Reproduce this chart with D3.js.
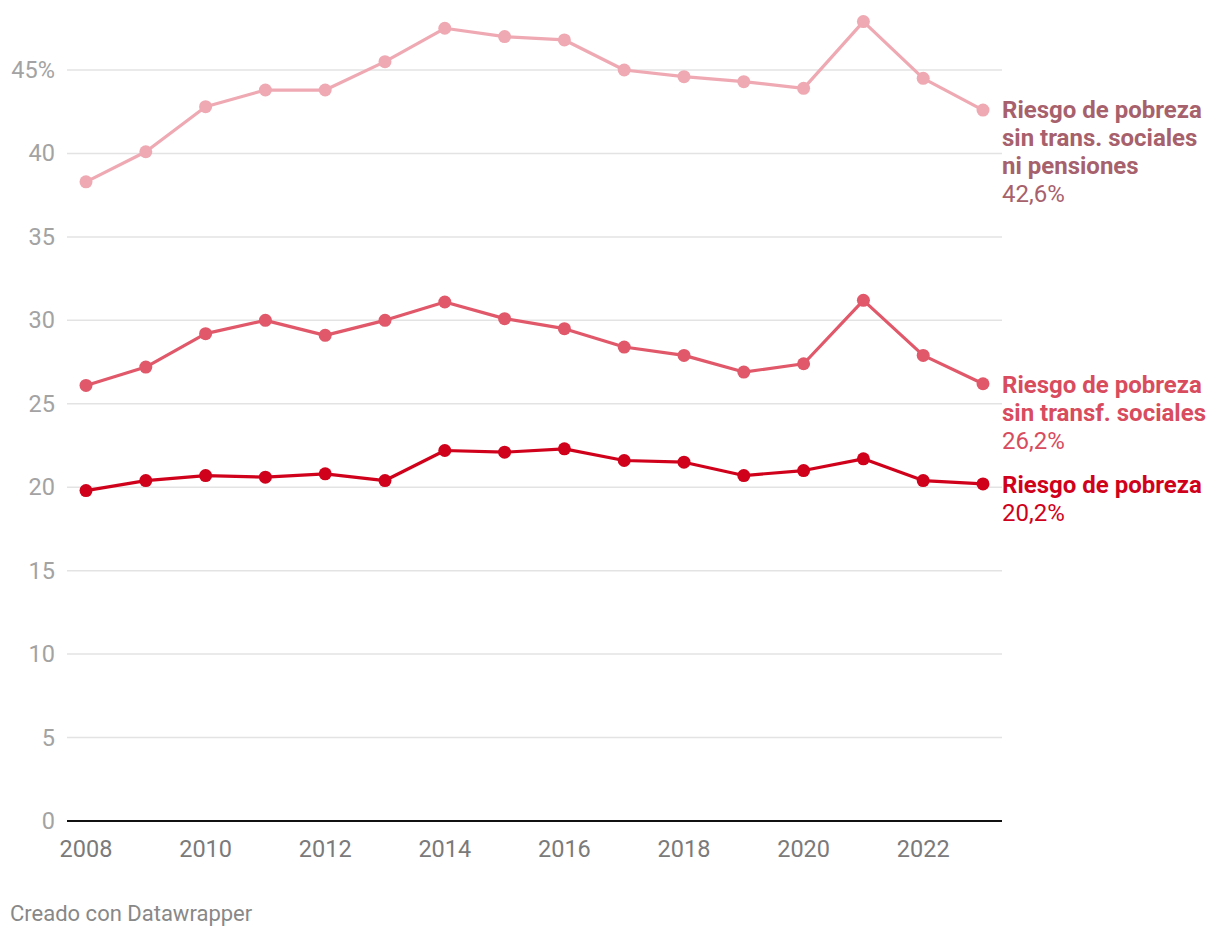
<!DOCTYPE html>
<html><head><meta charset="utf-8">
<script src="https://cdn.jsdelivr.net/npm/d3@7/dist/d3.min.js"></script>
<style>body{margin:0;background:#fff;font-family:Roboto,sans-serif;}</style>
</head><body><svg id="c" width="1220" height="938"></svg>
<script>
const years = [2008,2009,2010,2011,2012,2013,2014,2015,2016,2017,2018,2019,2020,2021,2022,2023];
const sinTransPens = [38.3,40.1,42.8,43.8,43.8,45.5,47.5,47.0,46.8,45.0,44.6,44.3,43.9,47.9,44.5,42.6];
const sinTransf = [26.1,27.2,29.2,30.0,29.1,30.0,31.1,30.1,29.5,28.4,27.9,26.9,27.4,31.2,27.9,26.2];
const riesgo = [19.8,20.4,20.7,20.6,20.8,20.4,22.2,22.1,22.3,21.6,21.5,20.7,21.0,21.7,20.4,20.2];
const yTicks = [0,5,10,15,20,25,30,35,40,45];
const xTicks = [2008,2010,2012,2014,2016,2018,2020,2022];

const series = [
  {values: sinTransPens, color:"#efa9b3", label:["Riesgo de pobreza","sin trans. sociales","ni pensiones"], lc:"#a7616c", last:"42,6%", ly:118},
  {values: sinTransf, color:"#e05869", label:["Riesgo de pobreza","sin transf. sociales"], lc:"#d84c5e", last:"26,2%", ly:393},
  {values: riesgo, color:"#d0021b", label:["Riesgo de pobreza"], lc:"#d0021b", last:"20,2%", ly:493}
];

const svg = d3.select("#c");
const x = d3.scaleLinear().domain([2008,2023]).range([86,983]);
const y = d3.scaleLinear().domain([0,45]).range([821,70]);
const gx0 = 67, gx1 = 1002;

svg.append("g").selectAll("line").data(yTicks.filter(d=>d>0)).join("line")
  .attr("x1",gx0).attr("x2",gx1).attr("y1",d=>y(d)).attr("y2",d=>y(d))
  .attr("stroke","#e3e3e3").attr("stroke-width",1.5);

svg.append("g").selectAll("text").data(yTicks).join("text")
  .attr("x",55).attr("y",d=>y(d)+8).attr("text-anchor","end")
  .attr("font-size",23.5).attr("fill","#a3a3a3")
  .text(d=>d===45?"45%":d);

svg.append("line").attr("x1",gx0).attr("x2",gx1).attr("y1",y(0)).attr("y2",y(0))
  .attr("stroke","#111").attr("stroke-width",2);

svg.append("g").selectAll("text").data(xTicks).join("text")
  .attr("x",d=>x(d)).attr("y",857).attr("text-anchor","middle")
  .attr("font-size",23.5).attr("fill","#7a7a7a").text(d=>d);

const line = d3.line().x((d,i)=>x(years[i])).y(d=>y(d));
series.forEach(s=>{
  svg.append("path").attr("d",line(s.values)).attr("fill","none")
    .attr("stroke",s.color).attr("stroke-width",3.2).attr("stroke-linejoin","round");
  svg.append("g").selectAll("circle").data(s.values).join("circle")
    .attr("cx",(d,i)=>x(years[i])).attr("cy",d=>y(d)).attr("r",6.5).attr("fill",s.color);
  const t = svg.append("g");
  s.label.forEach((l,i)=>{
    t.append("text").attr("x",1002).attr("y",s.ly+i*28).attr("font-size",24)
      .attr("font-weight","bold").attr("fill",s.lc).text(l);
  });
  t.append("text").attr("x",1002).attr("y",s.ly+s.label.length*28).attr("font-size",24)
    .attr("fill",s.lc).text(s.last);
});

svg.append("text").attr("x",10).attr("y",921).attr("font-size",22).attr("fill","#888").text("Creado con Datawrapper");
</script></body></html>
